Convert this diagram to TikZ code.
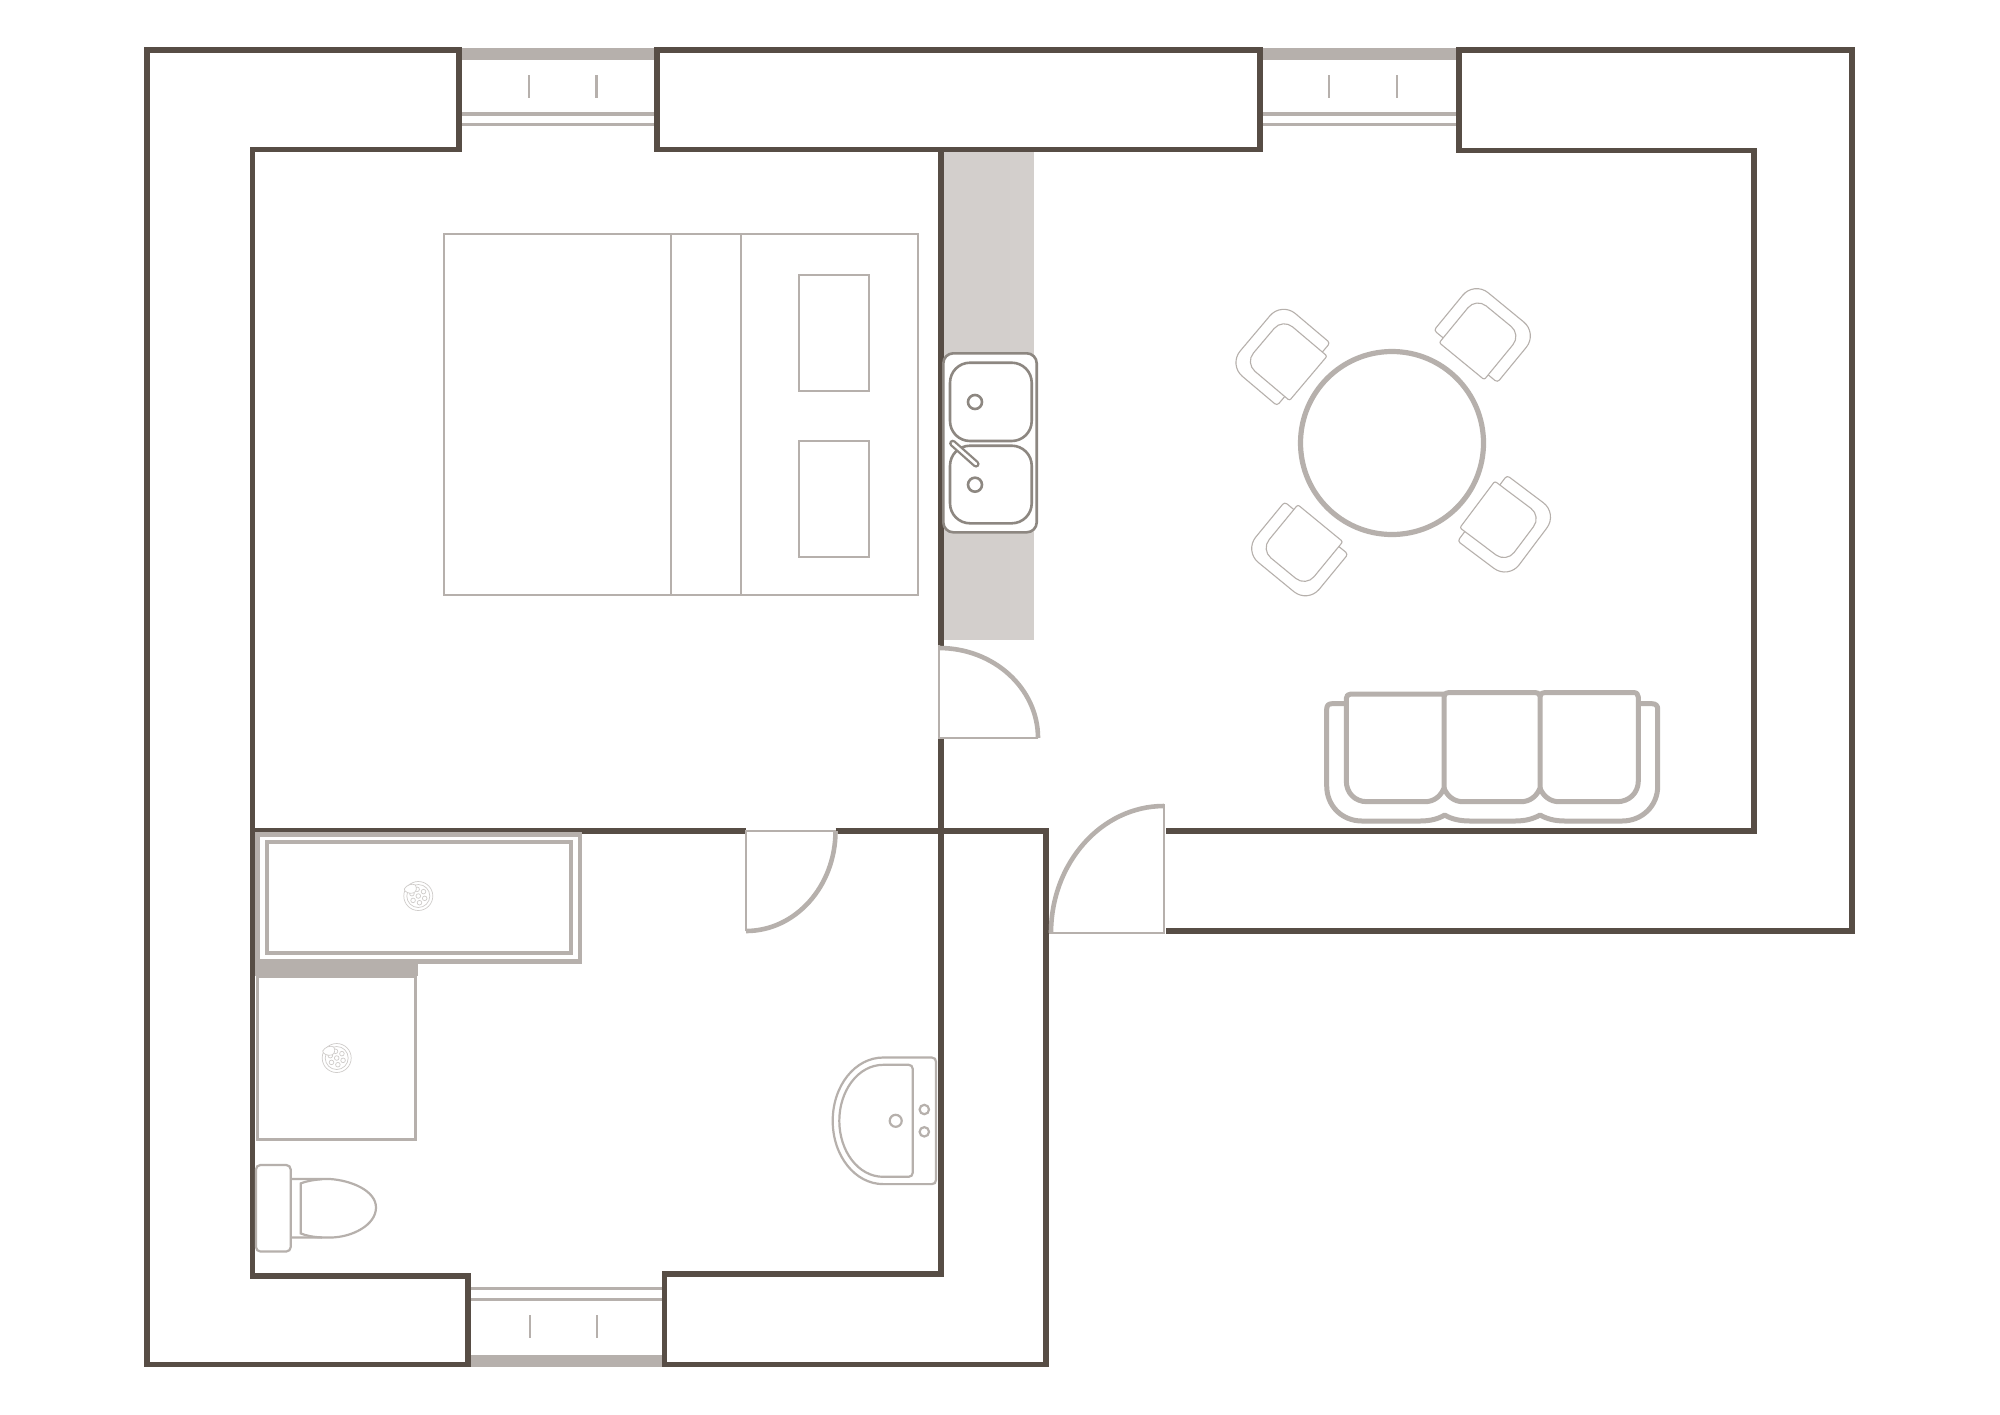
\documentclass[tikz,border=0pt]{standalone}
\definecolor{wallc}{HTML}{574D45}
\definecolor{furn}{HTML}{B6B0AC}
\definecolor{counterc}{HTML}{D3CFCC}
\definecolor{sinkc}{HTML}{8D8781}
\definecolor{drainc}{HTML}{CFCCCA}
\tikzset{
  x=.5pt,y=-.5pt,
  wall/.style={draw=wallc,line width=2.9pt,miter limit=10},
  sillband/.style={fill=furn,draw=none},
  glass/.style={draw=furn,line width=1.7pt},
  tick/.style={draw=furn,line width=1.3pt},
  doorleaf/.style={draw=furn,line width=1.3pt},
  doorarc/.style={draw=furn,line width=2.3pt},
  bedline/.style={draw=furn,line width=1pt},
  fixture/.style={draw=furn,line width=1.1pt},
  heavy/.style={draw=furn,line width=2.5pt,line join=round},
  sink/.style={draw=sinkc,line width=1.3pt},
  chairline/.style={draw=furn,line width=.55pt},
  drainline/.style={draw=drainc,line width=.35pt},
  dinechair/.pic={
    \draw[chairline,rounded corners=1.5pt] (-28,6) -- (-39.5,6) [rounded corners=9pt] -- (-39.5,67) -- (39.5,67) [rounded corners=1.5pt] -- (39.5,6) -- (28,6);
    \draw[chairline,rounded corners=1pt] (0,0) -- (-28,0) [rounded corners=6.5pt] -- (-28,56) -- (28,56) [rounded corners=1pt] -- (28,0) -- cycle;
  },
  drainpic/.pic={
    \draw[drainline] (0,0) circle[radius=14.5];
    \draw[drainline] (0,0) circle[radius=11.5];
    \draw[drainline] (0,0) circle[radius=2.3];
    \foreach \a in {20,80,140,200,260,320}{
      \draw[drainline] (\a:6.8) circle[radius=2.3];
    }
    \draw[drainline,fill=white] (-14,-7) .. controls (-12,-11) and (-6,-13) .. (-3,-11) .. controls (-1,-8) and (-2,-4) .. (-5,-3) .. controls (-9,-2) and (-14,-4) .. cycle;
  }
}
\begin{document}
\begin{tikzpicture}
\useasboundingbox (0,0) rectangle (2000,1414);
\fill[white] (0,0) rectangle (2000,1414);
% kitchen counter
\fill[counterc] (943,151) rectangle (1034,640);
% windows
\fill[sillband] (461,48) rectangle (655,59.5);
\fill[sillband] (1262,48) rectangle (1458,59.5);
\fill[sillband] (470,1355) rectangle (664,1367);
\draw[glass] (461,114) -- (655,114) (461,124.3) -- (655,124.3);
\draw[glass] (1262,114) -- (1458,114) (1262,124.3) -- (1458,124.3);
\draw[glass] (470,1288.7) -- (664,1288.7) (470,1299.3) -- (664,1299.3);
\draw[tick] (529,75) -- (529,97.7) (596.5,75) -- (596.5,97.7);
\draw[tick] (1329,75) -- (1329,97.7) (1397,75) -- (1397,97.7);
\draw[tick] (530,1315) -- (530,1338) (597,1315) -- (597,1338);
% walls
\draw[wall] (459,49.7) -- (146.7,49.7) -- (146.7,1364.5) -- (468,1364.5) -- (468,1276) -- (252.5,1276) -- (252.5,149.5) -- (459,149.5) -- cycle;
\draw[wall] (657,49.7) rectangle (1260,149.5);
\draw[wall] (1166,931) -- (1852,931) -- (1852,49.7) -- (1459,49.7) -- (1459,150.5) -- (1754,150.5) -- (1754,831) -- (1166,831);
\draw[wall] (252.5,831) -- (746,831);
\draw[wall] (835.5,831) -- (1046,831) -- (1046,1364.5) -- (664.5,1364.5) -- (664.5,1274) -- (941,1274) -- (941,738);
\draw[wall] (941,646) -- (941,150);
% doors
\draw[doorleaf] (939,645) -- (939,738) -- (1038,738);
\draw[doorarc] (939,648) .. controls (993.7,648) and (1038,688.3) .. (1038,738);
\draw[doorleaf] (1164,804) -- (1164,933) -- (1049,933);
\draw[doorarc] (1164,806) .. controls (1101.6,806) and (1051,862.9) .. (1051,933);
\draw[doorleaf] (746,931) -- (746,831) -- (835.5,831);
\draw[doorarc] (746,931) .. controls (795.4,931) and (835.5,886.2) .. (835.5,831);
% bed
\draw[bedline] (444,234) rectangle (918.4,595);
\draw[bedline] (671,234) -- (671,595) (741,234) -- (741,595);
\draw[bedline] (798.5,275) rectangle (868.6,391);
\draw[bedline] (798.5,441) rectangle (868.6,557);
% sink
\draw[sink,fill=white,rounded corners=5pt] (943.3,353.3) rectangle (1036.7,532.3);
\draw[sink,rounded corners=10pt] (950,362.7) rectangle (1031.7,441);
\draw[sink,rounded corners=10pt] (950,445.7) rectangle (1031.7,523.3);
\draw[sink] (975,402) circle[radius=7];
\draw[sink] (975,484.7) circle[radius=7];
\draw[draw=sinkc,line width=3.6pt,line cap=round] (952.7,443.3) -- (976,464);
\draw[draw=white,line width=1.3pt,line cap=round] (952.7,443.3) -- (976,464);
% table and chairs
\draw[draw=furn,line width=2.6pt] (1392,443) circle[radius=91.5];
\pic[rotate=140.6,scale=1.04] at (1461.7,361.2) {dinechair};
\pic[rotate=-130.2,scale=1.04] at (1308.3,378.3) {dinechair};
\pic[rotate=-39.4,scale=1.04] at (1320.3,523.2) {dinechair};
\pic[rotate=53.1,scale=1.04] at (1477.3,504.5) {dinechair};
% sofa
\draw[heavy] (1346.3,703.7) -- (1332,703.7) .. controls (1328.5,703.7) and (1326.7,705.5) .. (1326.7,709) -- (1326.7,786) .. controls (1326.7,806) and (1342,821) .. (1362,821) -- (1420,821) .. controls (1430,821) and (1438,819) .. (1444.7,815) .. controls (1451,819) and (1460,821) .. (1470,821) -- (1515,821) .. controls (1525,821) and (1533,819) .. (1540,815) .. controls (1547,819) and (1555,821) .. (1565,821) -- (1622,821) .. controls (1642,821) and (1657.7,806) .. (1657.7,786) -- (1657.7,709) .. controls (1657.7,705.5) and (1655.5,703.7) .. (1652,703.7) -- (1638,703.7);
\draw[heavy] (1444,694) -- (1351,694) .. controls (1348,694) and (1346.3,695.5) .. (1346.3,698.5) -- (1346.3,781) .. controls (1346.3,793) and (1355,801.7) .. (1367,801.7) -- (1425,801.7) .. controls (1434,801.7) and (1441,796) .. (1444,788) -- (1444,694);
\draw[heavy] (1444,696) .. controls (1445,693.5) and (1446,692.5) .. (1449,692.5) -- (1535,692.5) .. controls (1538,692.5) and (1539,693.5) .. (1540,696) -- (1540,788) .. controls (1537,796) and (1530,801.7) .. (1521,801.7) -- (1463,801.7) .. controls (1454,801.7) and (1447,796) .. (1444,788);
\draw[heavy] (1540,696) .. controls (1541,693.5) and (1542,692.5) .. (1545,692.5) -- (1633,692.5) .. controls (1636.5,692.5) and (1638.3,694) .. (1638.3,697) -- (1638.3,781) .. controls (1638.3,793) and (1629,801.7) .. (1617,801.7) -- (1559,801.7) .. controls (1550,801.7) and (1543,796) .. (1540,788);
% bathtub
\draw[draw=furn,line width=2.3pt] (257.3,834.5) rectangle (580,961.5);
\draw[draw=furn,line width=2pt] (267,842) rectangle (571,953);
\pic at (418.3,896) {drainpic};
% shower
\fill[furn] (255,964) rectangle (417.7,976);
\draw[draw=furn,line width=1.5pt] (257,976) -- (257,1139) -- (415.7,1139) -- (415.7,976) -- cycle;
\pic at (336.7,1058) {drainpic};
% toilet
\draw[fixture,rounded corners=2.2pt] (256,1165) rectangle (290.7,1251.5);
\draw[fixture] (290.7,1179) -- (330,1179) .. controls (352,1180.5) and (376,1191) .. (376,1207.5) .. controls (376,1225) and (352,1237.5) .. (330,1237.5) -- (290.7,1237.5);
\draw[fixture] (322,1179.2) .. controls (314,1179.7) and (306,1181.2) .. (300.7,1183.4) -- (300.7,1233.4) .. controls (306,1235.7) and (314,1237.2) .. (322,1237.4);
% basin
\draw[fixture] (883.3,1057.5) -- (931.7,1057.5) .. controls (934.5,1057.5) and (936,1059.3) .. (936,1061.8) -- (936,1179.8) .. controls (936,1182.8) and (934.5,1184.1) .. (931.7,1184.1) -- (883.3,1184.1) .. controls (855,1184.1) and (832.7,1155.8) .. (832.7,1120.8) .. controls (832.7,1085.8) and (855,1057.5) .. (883.3,1057.5) -- cycle;
\draw[fixture] (883.3,1064.8) -- (908.7,1064.8) .. controls (911,1064.8) and (912.7,1066.5) .. (912.7,1068.8) -- (912.7,1172.8) .. controls (912.7,1175.1) and (911,1176.8) .. (908.7,1176.8) -- (883.3,1176.8) .. controls (858,1176.8) and (839.3,1150.8) .. (839.3,1120.8) .. controls (839.3,1090.8) and (858,1064.8) .. (883.3,1064.8) -- cycle;
\draw[fixture] (895.7,1120.8) circle[radius=6];
\draw[fixture] (924.3,1109.5) circle[radius=4.7];
\draw[fixture] (924.3,1131.8) circle[radius=4.7];
\end{tikzpicture}
\end{document}
